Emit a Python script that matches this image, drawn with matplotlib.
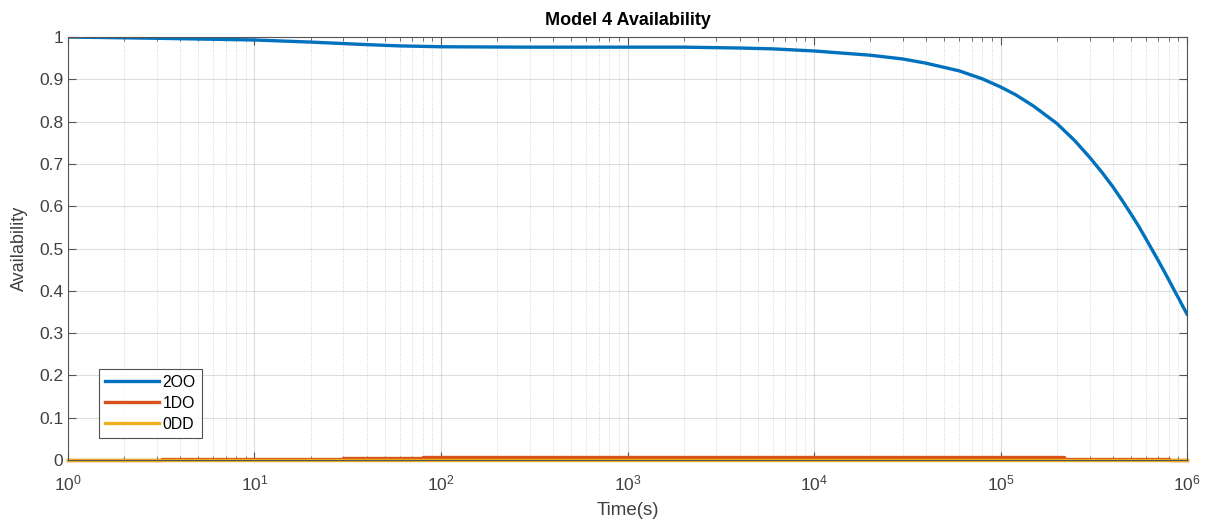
import matplotlib.pyplot as plt
import numpy as np
from matplotlib.ticker import LogLocator, NullFormatter

plt.rcParams['font.family'] = ['Liberation Sans', 'DejaVu Sans']
plt.rcParams['mathtext.fontset'] = 'custom'
plt.rcParams['mathtext.rm'] = 'Liberation Sans'
plt.rcParams['mathtext.it'] = 'Liberation Sans:italic'
plt.rcParams['mathtext.bf'] = 'Liberation Sans:bold'

# time points (s) and availability values
t_2oo = [1, 3, 10, 20, 40, 60, 100, 300, 1000, 2000, 4000, 6000, 1e4, 2e4, 3e4,
         4e4, 6e4, 8e4, 1e5, 1.2e5, 1.5e5, 1.75e5, 2e5, 2.5e5, 3e5, 3.5e5, 4e5,
         4.5e5, 5e5, 5.5e5, 6e5, 6.5e5, 7e5, 7.5e5, 8e5, 8.5e5, 9e5, 9.5e5, 1e6]
a_2oo = [1.0, 0.997, 0.993, 0.988, 0.982, 0.979, 0.977, 0.976, 0.976, 0.976,
         0.974, 0.972, 0.967, 0.957, 0.948, 0.938, 0.920, 0.901, 0.882, 0.864,
         0.837, 0.815, 0.796, 0.755, 0.716, 0.680, 0.646, 0.613, 0.582, 0.553,
         0.524, 0.497, 0.472, 0.448, 0.425, 0.403, 0.383, 0.363, 0.345]

t_1do = [1, 3.2, 3.2, 30, 30, 80, 80, 2.2e5, 2.2e5, 8e5, 8e5, 1e6]
a_1do = [0.0, 0.0, 0.002, 0.002, 0.004, 0.004, 0.006, 0.006, 0.003, 0.003, 0.001, 0.001]

t_0dd = [1, 1e6]
a_0dd = [0.0, 0.0]

labels = ['2OO', '1DO', '0DD']
colors = ['#0072BD', '#D95319', '#EDB120']

fig = plt.figure(figsize=(12.12, 5.25), dpi=100)
ax = fig.add_axes([0.0561, 0.1238, 0.9233, 0.8057])

ax.semilogx(t_2oo, a_2oo, color=colors[0], lw=2.4, label=labels[0])
ax.semilogx(t_1do, a_1do, color=colors[1], lw=2.4, label=labels[1], clip_on=False)
ax.semilogx(t_0dd, a_0dd, color=colors[2], lw=2.4, label=labels[2], clip_on=False)

ax.set_xlim(1, 1e6)
ax.set_ylim(0, 1)
ax.set_yticks(np.arange(0, 1.01, 0.1))
ax.set_yticklabels(['0', '0.1', '0.2', '0.3', '0.4', '0.5', '0.6', '0.7', '0.8', '0.9', '1'])
ax.xaxis.set_major_locator(LogLocator(base=10, numticks=10))
ax.xaxis.set_minor_locator(LogLocator(base=10, subs=np.arange(2, 10), numticks=100))
ax.xaxis.set_minor_formatter(NullFormatter())

axcol = '#404040'
ax.grid(True, which='major', color='#262626', alpha=0.15, lw=0.8)
ax.grid(True, which='minor', axis='x', color='#262626', alpha=0.2, lw=0.7, ls=':')
for s in ax.spines.values():
    s.set_color('#555555')
    s.set_linewidth(0.8)
ax.tick_params(which='both', direction='in', top=True, right=True, colors='#555555',
               labelcolor=axcol, labelsize=12.5)
ax.tick_params(which='major', length=6)
ax.tick_params(which='minor', length=3)
ax.tick_params(axis='x', which='major', pad=10)

ax.set_title('Model 4 Availability', fontsize=13, fontweight='bold', pad=9)
ax.set_xlabel('Time(s)', fontsize=13.5, color=axcol, labelpad=6)
ax.set_ylabel('Availability', fontsize=13, color=axcol, labelpad=8)

leg = ax.legend(loc='lower left', bbox_to_anchor=(0.0277, 0.052), fontsize=11.3,
                frameon=True, fancybox=False, edgecolor='#262626',
                handlelength=3.4, handletextpad=0.25, borderpad=0.4, labelspacing=0.38,
                borderaxespad=0)
leg.get_frame().set_linewidth(0.8)

fig.savefig('out.png', dpi=100)
